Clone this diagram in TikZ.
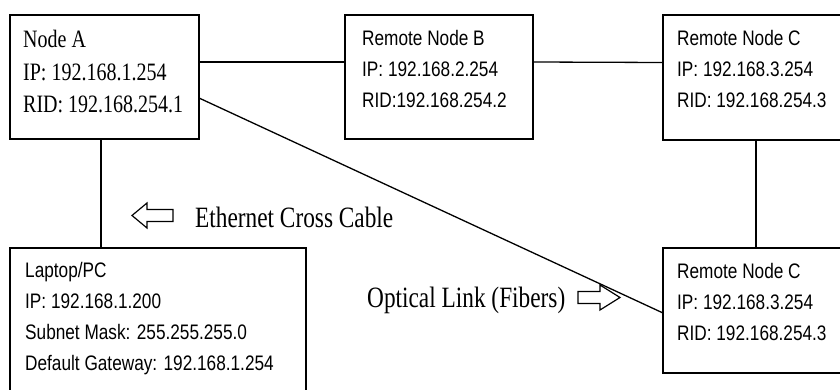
\documentclass[tikz,border=0pt]{standalone}
\usepackage{fontspec}
\newfontfamily\boxsans[FakeStretch=0.82]{Liberation Sans}
\newfontfamily\boxserif[FakeStretch=0.8]{Liberation Serif}
\newfontfamily\labserif[FakeStretch=0.79]{Liberation Serif}
\begin{document}
\begin{tikzpicture}[x=1pt,y=-1pt,
  box/.style={draw, line width=1.6pt, rectangle, inner sep=0pt, outer sep=0pt, anchor=north west},
  sanstext/.style={anchor=north west, inner sep=0pt, align=left, font=\boxsans\fontsize{21}{31}\selectfont},
  seriftext/.style={anchor=north west, inner sep=0pt, align=left, font=\boxserif\fontsize{25}{32.5}\selectfont},
  labeltext/.style={anchor=base west, inner sep=0pt, font=\labserif\fontsize{29.5}{34}\selectfont},
  link/.style={line width=1.3pt},
  hollow/.style={draw, line width=1.2pt, line join=miter}
]
\useasboundingbox (0,0) rectangle (840,390);
\clip (0,0) rectangle (840,390);
% boxes
\node[box, minimum width=189pt, minimum height=124pt] (A) at (10,15) {};
\node[box, minimum width=188pt, minimum height=124pt] (B) at (345,15) {};
\node[box, minimum width=200pt, minimum height=125pt] (C1) at (663,15) {};
\node[box, minimum width=296pt, minimum height=170pt] (L) at (10,248) {};
\node[box, minimum width=200pt, minimum height=125pt] (C2) at (663,248) {};
% texts
\node[seriftext] (tA) at (23,30) {Node A\\IP: 192.168.1.254\\RID: 192.168.254.1};
\node[sanstext] (tB) at (362,30) {Remote Node B\\IP: 192.168.2.254\\RID:192.168.254.2};
\node[sanstext] (tC1) at (677,30) {Remote Node C\\IP: 192.168.3.254\\RID: 192.168.254.3};
\node[sanstext] (tL) at (25,262) {Laptop/PC\\IP: 192.168.1.200\\Subnet Mask: 255.255.255.0\\Default Gateway: 192.168.1.254};
\node[sanstext] (tC2) at (677,263) {Remote Node C\\IP: 192.168.3.254\\RID: 192.168.254.3};
% connectors
\draw[link] ([yshift=15pt]A.east) -- ([yshift=15pt]B.west);
\draw[link] ([yshift=15pt]B.east) -- ([yshift=15pt]C1.west);
\draw[link] ([yshift=-21pt]A.east) -- ([yshift=-2.5pt]C2.west);
\coordinate (a1) at ([xshift=-3.5pt]A.south);
\draw[link] (a1) -- (a1 |- L.north);
\coordinate (c1) at ([xshift=93pt]C1.south west);
\draw[link] (c1) -- (c1 |- C2.north);
% hollow arrows and labels
\coordinate (arrL) at (132,215.5);
\draw[hollow] (arrL) -- ++(15,-12.5) -- ++(0,6.5) -- ++(26,0) -- ++(0,12) -- ++(-26,0) -- ++(0,6.5) -- cycle;
\node[labeltext] (lab1) at (195,227) {Ethernet Cross Cable};
\coordinate (arrR) at (620,297.5);
\draw[hollow] (arrR) -- ++(-20,-12.5) -- ++(0,6.5) -- ++(-22,0) -- ++(0,12) -- ++(22,0) -- ++(0,6.5) -- cycle;
\node[labeltext] (lab2) at (367,307) {Optical Link (Fibers)};
\end{tikzpicture}
\end{document}
